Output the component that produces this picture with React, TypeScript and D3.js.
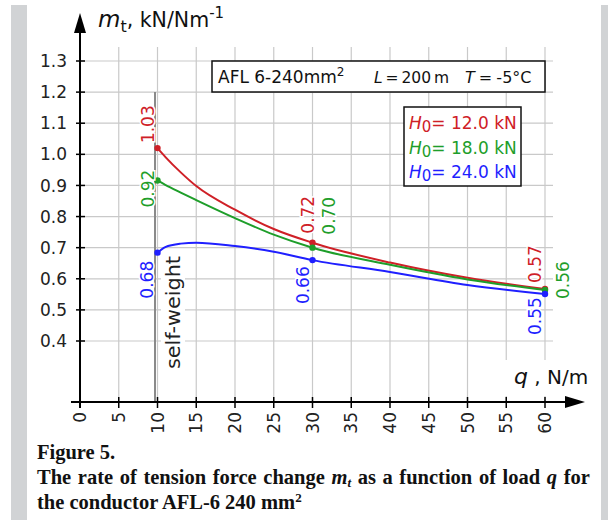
import React from "react";
import * as d3 from "d3";

// ---- data ----
const qValues = [10, 11, 13, 15, 20, 25, 30, 40, 50, 60];
const seriesRed = [1.02, 0.992, 0.942, 0.898, 0.822, 0.76, 0.716, 0.652, 0.603, 0.567];
const seriesGreen = [0.916, 0.902, 0.877, 0.853, 0.795, 0.742, 0.7, 0.645, 0.598, 0.564];
const seriesBlue = [0.684, 0.702, 0.713, 0.716, 0.705, 0.687, 0.66, 0.622, 0.58, 0.551];
const markerQ = [10, 30, 60];
const labelsRed = ["1.03", "0.72", "0.57"];
const labelsGreen = ["0.92", "0.70", "0.56"];
const labelsBlue = ["0.68", "0.66", "0.55"];
const legendNames = ["= 12.0 kN", "= 18.0 kN", "= 24.0 kN"];
const xTicks = [0, 5, 10, 15, 20, 25, 30, 35, 40, 45, 50, 55, 60];
const yTicks = [0.4, 0.5, 0.6, 0.7, 0.8, 0.9, 1.0, 1.1, 1.2, 1.3];

// ---- styles / layout ----
const RED = "#cf2027";
const GREEN = "#1e9e2a";
const BLUE = "#1f1fff";
const FONT = "DejaVu Sans, sans-serif";
const W = 608;
const H = 520;
const X0 = 80;
const XAXIS_Y = 402;

// label offsets (pixels, relative to marker): dx to text centre, dy to text start (bottom)
const labelOffsets = {
  red: [
    [-10, -5],
    [-5, -9],
    [-10, -6],
  ],
  green: [
    [-10, 27],
    [16, -13],
    [18, 9],
  ],
  blue: [
    [-11, 46],
    [-10, 44],
    [-10, 41],
  ],
};

export default function App() {
  const x = d3.scaleLinear().domain([0, 60]).range([X0, 545]);
  const y = d3.scaleLinear().domain([0.4, 1.3]).range([341, 61]);

  const line = d3
    .line<number>()
    .x((_, i) => x(qValues[i]))
    .y((d) => y(d))
    .curve(d3.curveMonotoneX);

  const series = [
    { vals: seriesRed, color: RED, labels: labelsRed, offs: labelOffsets.red },
    { vals: seriesGreen, color: GREEN, labels: labelsGreen, offs: labelOffsets.green },
    { vals: seriesBlue, color: BLUE, labels: labelsBlue, offs: labelOffsets.blue },
  ];

  const gridColor = "#c9c9c9";

  return (
    <svg
      width={W}
      height={H}
      style={{ position: "absolute", left: 0, top: 0, background: "#fff" }}
      fontFamily={FONT}
    >
      <rect x={0} y={0} width={W} height={H} fill="#fff" />
      <rect x={11} y={5} width={16} height={H - 5} fill="#d1d3d5" />
      <rect x={601} y={5} width={7} height={H - 5} fill="#d1d3d5" />

      {/* grid */}
      {yTicks.map((t) => (
        <line key={"hy" + t} x1={X0} x2={553} y1={y(t)} y2={y(t)} stroke={gridColor} strokeWidth={1.2} />
      ))}
      {xTicks
        .filter((t) => t > 0)
        .map((t) => (
          <line key={"vx" + t} x1={x(t)} x2={x(t)} y1={47} y2={XAXIS_Y} stroke={gridColor} strokeWidth={1.2} />
        ))}

      {/* white backgrounds for labels */}
      <rect x={161} y={252} width={24} height={122} fill="#fff" />
      <rect x={505} y={360} width={85} height={36} fill="#fff" />

      {/* self-weight line */}
      <line x1={x(10) - 2.5} x2={x(10) - 2.5} y1={y(1.2)} y2={XAXIS_Y} stroke="#8a8a8a" strokeWidth={2} />
      <text
        transform={`translate(${x(10) + 16},${369}) rotate(-90)`}
        fontSize={19}
        textLength={113}
        lengthAdjust="spacingAndGlyphs"
        fill="#222"
        dy="0.35em"
      >
        self-weight
      </text>

      {/* axes */}
      <line x1={X0} x2={X0} y1={28} y2={XAXIS_Y + 6} stroke="#000" strokeWidth={2} />
      <path d={`M${X0},13 L${X0 - 6},33 L${X0 + 6},33 Z`} fill="#000" />
      <line x1={71} x2={570} y1={XAXIS_Y} y2={XAXIS_Y} stroke="#000" strokeWidth={2} />
      <path d={`M585,${XAXIS_Y} L565,${XAXIS_Y - 6} L565,${XAXIS_Y + 6} Z`} fill="#000" />

      {xTicks.map((t) => (
        <g key={"xt" + t}>
          <line x1={x(t)} x2={x(t)} y1={XAXIS_Y - 5} y2={XAXIS_Y + 6} stroke="#000" strokeWidth={1.5} />
          <text
            transform={`translate(${x(t)},${412}) rotate(-90)`}
            textAnchor="end"
            dy="0.36em"
            fontSize={17}
            fill="#222"
          >
            {String(t)}
          </text>
        </g>
      ))}
      {yTicks.map((t) => (
        <g key={"yt" + t}>
          <line x1={X0 - 4} x2={X0 + 5} y1={y(t)} y2={y(t)} stroke="#000" strokeWidth={1.5} />
          <text x={67} y={y(t)} dy="0.36em" textAnchor="end" fontSize={17} fill="#222">
            {t.toFixed(1)}
          </text>
        </g>
      ))}

      {/* axis titles */}
      <text x={98} y={27} fontSize={20.5} fill="#111">
        <tspan fontStyle="italic" fontSize={23}>m</tspan>
        <tspan fontSize={16} dy={5}>t</tspan>
        <tspan dy={-5}>, kN/Nm</tspan>
        <tspan fontSize={15} dy={-9}>-1</tspan>
      </text>
      <text x={514} y={384} fontSize={20} fill="#111">
        <tspan fontStyle="italic" fontSize={22}>q</tspan>
        <tspan> , N/m</tspan>
      </text>

      {/* title box */}
      <rect x={212} y={61} width={333} height={31} fill="#fff" stroke="#111" strokeWidth={1.5} />
      <text x={218} y={83} fontSize={17} fill="#111">
        <tspan>AFL 6-240mm</tspan>
        <tspan fontSize={12} dy={-7}>2</tspan>
      </text>
      <text x={374} y={83} fontSize={15.5} fill="#111" wordSpacing={-2} xmlSpace="preserve">
        <tspan fontStyle="italic">L</tspan>
        <tspan>{" = 200 m"}</tspan>
      </text>
      <text x={465} y={83} fontSize={16} fill="#111" wordSpacing={-1} xmlSpace="preserve">
        <tspan fontStyle="italic">T</tspan>
        <tspan>{" = -5°C"}</tspan>
      </text>

      {/* legend */}
      <rect x={404} y={107} width={117} height={79} fill="#fff" stroke="#111" strokeWidth={1.5} />
      {series.map((s, i) => (
        <text key={"lg" + i} x={409} y={129 + i * 24.5} fontSize={17} fill={s.color}>
          <tspan fontStyle="italic">H</tspan>
          <tspan fontSize={15} dy={3}>0</tspan>
          <tspan dy={-3}>{legendNames[i]}</tspan>
        </text>
      ))}

      {/* curves */}
      {series.map((s, i) => (
        <path key={"c" + i} d={line(s.vals) || ""} fill="none" stroke={s.color} strokeWidth={2} />
      ))}
      {series.map((s, i) =>
        markerQ.map((q, j) => {
          const idx = qValues.indexOf(q);
          return <circle key={"m" + i + j} cx={x(q)} cy={y(s.vals[idx])} r={3.2} fill={s.color} />;
        })
      )}
      {series.map((s, i) =>
        markerQ.map((q, j) => {
          const idx = qValues.indexOf(q);
          const [dx, dy] = s.offs[j];
          return (
            <text
              key={"l" + i + j}
              transform={`translate(${x(q) + dx},${y(s.vals[idx]) + dy}) rotate(-90)`}
              dy="0.36em"
              fontSize={17}
              fill={s.color}
              stroke="#fff"
              strokeWidth={3}
              paintOrder="stroke"
            >
              {s.labels[j]}
            </text>
          );
        })
      )}

      {/* caption */}
      <g fontFamily="Liberation Serif, Times New Roman, serif" fontWeight="bold" fill="#111" fontSize={20.5}>
        <text x={37} y={459}>Figure 5.</text>
        <text x={37} y={484} wordSpacing={1.5}>
          <tspan>The rate of tension force change </tspan>
          <tspan fontStyle="italic">m</tspan>
          <tspan fontStyle="italic" fontSize={13} dy={3}>t</tspan>
          <tspan dy={-3}> as a function of load </tspan>
          <tspan fontStyle="italic">q</tspan>
          <tspan> for</tspan>
        </text>
        <text x={37} y={509}>
          <tspan>the conductor AFL-6 240 mm</tspan>
          <tspan fontSize={13} dy={-7}>2</tspan>
        </text>
      </g>
    </svg>
  );
}
